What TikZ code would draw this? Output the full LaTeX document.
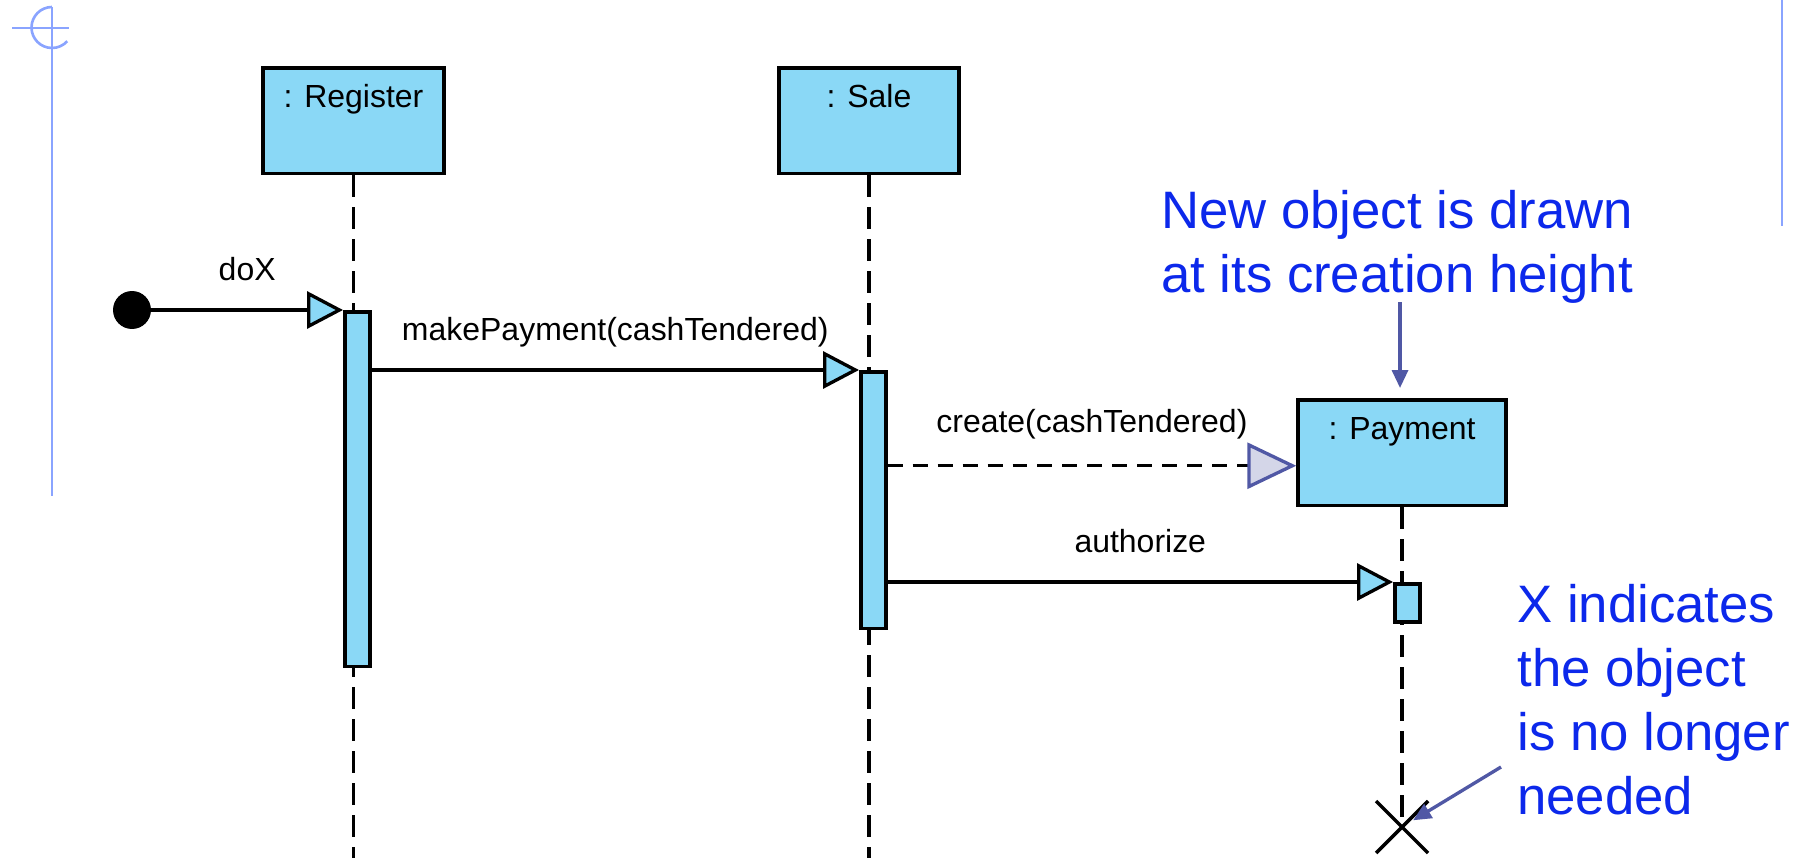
\documentclass[tikz,border=0pt]{standalone}
\usepackage{fontspec}
\setmainfont{Liberation Sans}
\usepackage{tikz}
\usetikzlibrary{arrows.meta}

\definecolor{boxblue}{RGB}{138,216,246}
\definecolor{notetext}{RGB}{12,40,235}
\definecolor{notearrow}{RGB}{80,88,165}
\definecolor{tipgray}{RGB}{212,214,232}
\definecolor{slideline}{RGB}{138,164,255}
\newcommand{\umlfont}{\fontsize{18.2}{22}\selectfont}
\newcommand{\notefont}{\fontsize{30}{36.4}\selectfont}

\begin{document}
\begin{tikzpicture}[x=0.02cm, y=-0.02cm,
    obj/.style={draw, fill=boxblue, line width=2pt, inner sep=0pt, text height=0.8cm,
        text depth=1.32cm, anchor=north, font=\umlfont},
    bar/.style={draw, fill=boxblue, line width=2pt, inner sep=0pt, minimum width=0.5cm,
        anchor=north west},
    lifeline/.style={line width=1.9pt, dash pattern=on 0.44cm off 0.2cm},
    msg/.style={line width=1.9pt, -{Triangle[length=0.72cm, width=0.74cm, fill=boxblue]}},
    newmsg/.style={line width=1.9pt, dash pattern=on 0.3cm off 0.2cm,
        -{Triangle[length=0.98cm, width=0.92cm, fill=tipgray, color=notearrow]}},
    mlabel/.style={anchor=base, yshift=0.6cm, inner sep=0pt, font=\umlfont},
    xmark/.style={line width=2pt},
    note/.style={text=notetext, inner sep=0pt, font=\notefont},
    notearrow/.style={draw=notearrow, line width=1.9pt,
        -{Triangle[length=0.36cm, width=0.32cm]}},
    slide/.style={draw=slideline, line width=1.5pt}]

\useasboundingbox (0,0) rectangle (1807,858);

\draw[slide] (12,28) -- (69,28) (52,7) -- (52,496) (1782,0) -- (1782,226);
\draw[slide] (52,7) arc[start angle=90, end angle=318, radius=0.41cm];

\coordinate (bot) at (0,858);
\coordinate (px) at (1402,827);

\node[obj, minimum width=3.62cm] (reg) at (353.5,66) {: Register};
\node[obj, minimum width=3.6cm] (sale) at (869,66) {: Sale};
\node[obj, minimum width=4.16cm] (pay) at (1402,398) {: Payment};

\draw[lifeline] (reg.south) -- (reg.south |- bot);
\draw[lifeline] (sale.south) -- (sale.south |- bot);
\draw[lifeline] (pay.south) -- (px);

\node[bar, minimum height=7.1cm] (regbar) at (343,310) {};
\node[bar, minimum height=5.14cm] (salebar) at (859,370) {};
\node[bar, minimum height=0.76cm] (paybar) at (1393,582) {};

\node[circle, fill=black, minimum size=0.76cm, inner sep=0pt] (start) at (132,310) {};

\draw[msg] (start) -- node[mlabel] {doX} (regbar.north west);
\draw[msg] (regbar.east |- salebar.north west) -- node[mlabel] {makePayment(cashTendered)}
    (salebar.north west);
\coordinate (crt) at ([yshift=-0.26cm]pay.west);
\draw[newmsg] (salebar.east |- crt) -- node[mlabel, yshift=0.06cm] {create(cashTendered)} (crt);
\draw[msg] (salebar.east |- paybar.north west) -- node[mlabel] {authorize} (paybar.north west);

\draw[xmark] (px) +(-26,-26) -- +(26,26) (px) +(-26,26) -- +(26,-26);

\node[note, align=center, anchor=north] (newnote) at (1397,190)
    {New object is drawn\\at its creation height};
\coordinate (na) at (1400,302);
\draw[notearrow, shorten >=0.2cm] (na) -- (na |- pay.north);

\node[note, align=left, anchor=north west] (xnote) at (1517,584)
    {X indicates\\the object\\is no longer\\needed};
\coordinate (xa) at (1501,767);
\draw[notearrow, shorten >=0.26cm] (xa) -- (px);

\end{tikzpicture}
\end{document}
